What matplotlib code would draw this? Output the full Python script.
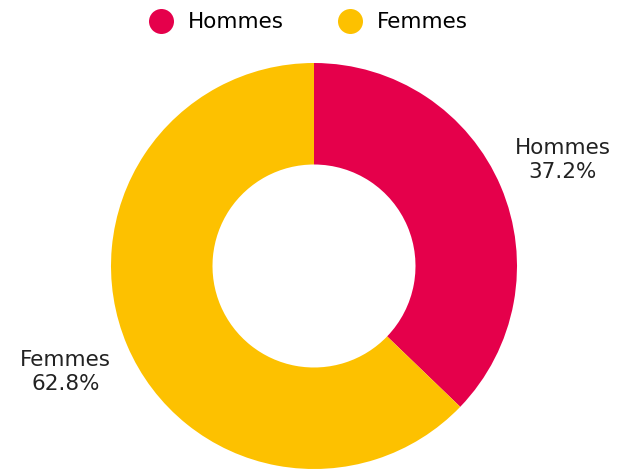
import matplotlib.pyplot as plt
from matplotlib.lines import Line2D

plt.rcParams['font.family'] = ['DejaVu Sans']

categories = ['Hommes', 'Femmes']
shares = [37.2, 62.8]
colors = ['#E5004B', '#FDC100']

fig = plt.figure(figsize=(6.3, 4.7), dpi=100)
ax = fig.add_axes([111 / 630, 1 / 470, 406 / 630, 406 / 470])

labels = [f'{c}\n{v}%' for c, v in zip(categories, shares)]
wedges, texts = ax.pie(shares, labels=labels, colors=colors, startangle=90,
                       counterclock=False, labeldistance=1.33,
                       wedgeprops=dict(width=0.5, edgecolor='none'),
                       textprops=dict(fontsize=15.5, color='#222222'))
for t in texts:
    t.set_ha('center')
    t.set_va('center')
    t.set_multialignment('center')
    t.set_linespacing(1.25)
ax.set_xlim(-1, 1)
ax.set_ylim(-1, 1)
ax.set_aspect('equal')

handles = [Line2D([], [], marker='o', linestyle='none', markersize=18,
                  markerfacecolor=c, markeredgecolor='none') for c in colors]
fig.legend(handles, categories, loc='center', bbox_to_anchor=(0.482, 0.953),
           ncol=2, frameon=False, fontsize=15.5, handletextpad=0.25,
           columnspacing=2.05)

fig.savefig('out.png', dpi=100)
